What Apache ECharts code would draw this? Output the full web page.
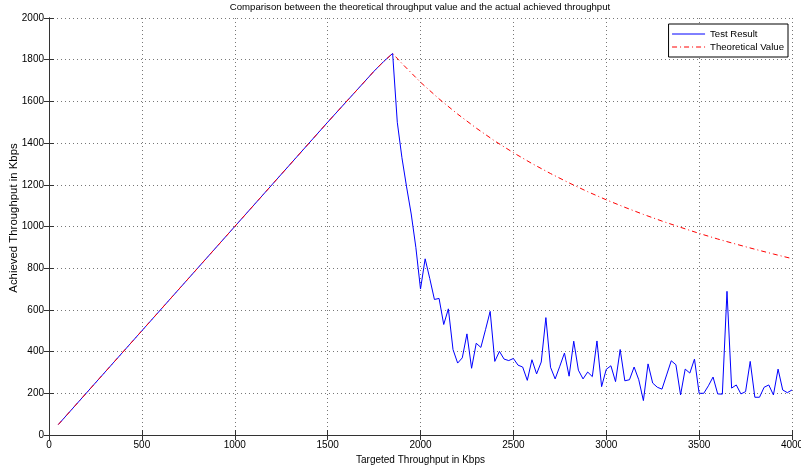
<!DOCTYPE html>
<html>
<head>
<meta charset="utf-8">
<script src="https://cdn.jsdelivr.net/npm/echarts@6/dist/echarts.min.js"></script>
<style>
  html, body { margin: 0; padding: 0; background: #fff; }
  #main { width: 801px; height: 465px; }
</style>
</head>
<body>
<div id="main"></div>
<script>
// measured test result (Kbps)
var testX = [
    50, 1000, 1500, 1750, 1800, 1850,
    1875, 1900, 1925, 1950, 1975, 2000,
    2025, 2050, 2075, 2100, 2125, 2150, 2175, 2200, 2225, 2250,
    2275, 2300, 2325, 2350, 2375, 2400, 2425, 2450, 2475, 2500,
    2525, 2550, 2575, 2600, 2625, 2650, 2675, 2700, 2725, 2750,
    2775, 2800, 2825, 2850, 2875, 2900, 2925, 2950, 2975, 3000,
    3025, 3050, 3075, 3100, 3125, 3150, 3175, 3200, 3225, 3250,
    3275, 3300, 3325, 3350, 3375, 3400, 3425, 3450, 3475, 3500,
    3525, 3550, 3575, 3600, 3625, 3650, 3675, 3700, 3725, 3750,
    3775, 3800, 3825, 3850, 3875, 3900, 3925, 3950, 3975, 4000
];
var testY = [
    50, 1000, 1500, 1745, 1790, 1830,
    1500, 1330, 1190, 1060, 900, 700,
    845, 750, 650, 655, 530, 605, 410, 345, 370, 485,
    320, 440, 420, 505, 593, 353, 401, 364, 357, 367,
    335, 326, 262, 361, 293, 350, 563, 325, 269, 330,
    393, 282, 450, 311, 269, 302, 280, 451, 232, 315,
    332, 256, 410, 260, 265, 326, 265, 165, 341, 249,
    229, 220, 288, 356, 337, 192, 316, 297, 364, 200,
    200, 236, 278, 197, 196, 689, 225, 240, 197, 208,
    353, 181, 181, 229, 240, 192, 316, 216, 203, 216
];

// theoretical value (Kbps)
var theoX = [50, 1000, 1500, 1750, 1800, 1850, 1900, 2000, 2100, 2200, 2300, 2400, 2500,
    2600, 2700, 2800, 2900, 3000, 3100, 3200, 3300, 3400, 3500, 3600, 3700, 3800, 3900, 4000];
var theoY = [50, 1000, 1500, 1745, 1790, 1830, 1782, 1692, 1612, 1539, 1472, 1410, 1354,
    1302, 1254, 1209, 1167, 1128, 1092, 1058, 1026, 996, 967, 940, 915, 891, 868, 846];

var xTicks = [0, 500, 1000, 1500, 2000, 2500, 3000, 3500, 4000];
var yTicks = [0, 200, 400, 600, 800, 1000, 1200, 1400, 1600, 1800, 2000];

function pairs(xs, ys) {
    return xs.map(function (x, i) { return [x, ys[i]]; });
}

var font = '"Liberation Sans", Arial, sans-serif';
var tick = { show: true, inside: true, length: 5, lineStyle: { color: '#333' } };
var axisLine = { show: true, lineStyle: { color: '#333', width: 1 } };
var grid = { type: [1, 3], color: '#777', width: 1 };

var chart = echarts.init(document.getElementById('main'), null, { renderer: 'canvas' });
chart.setOption({
    animation: false,
    backgroundColor: '#fff',
    textStyle: { fontFamily: font },
    title: {
        text: 'Comparison between the theoretical throughput value and the actual achieved throughput',
        left: 420,
        top: 2,
        padding: 0,
        textAlign: 'center',
        textStyle: { fontSize: 9.6, fontWeight: 'normal', color: '#000', fontFamily: font }
    },
    grid: { left: 49, right: 9, top: 18, bottom: 30, outerBoundsMode: 'none', containLabel: false },
    legend: {
        orient: 'vertical',
        right: 13,
        top: 24,
        backgroundColor: '#fff',
        borderColor: '#000',
        borderWidth: 1,
        borderRadius: 0,
        padding: [5, 4, 5, 3],
        itemWidth: 33,
        itemHeight: 10,
        itemGap: 3,
        itemStyle: { opacity: 0 },
        lineStyle: { width: 1 },
        textStyle: { fontSize: 9.6, color: '#000', fontFamily: font },
        data: ['Test Result', 'Theoretical Value']
    },
    graphic: [{
        type: 'text',
        x: 14,
        y: 218,
        rotation: Math.PI / 2,
        style: {
            text: 'Achieved Throughput in Kbps',
            fontSize: 11.4,
            fontFamily: font,
            fill: '#000',
            align: 'center',
            verticalAlign: 'middle'
        }
    }],
    xAxis: [{
        type: 'value',
        min: 0, max: 4000, interval: 500,
        name: 'Targeted Throughput in Kbps',
        nameLocation: 'middle',
        nameGap: 15,
        nameTextStyle: { fontSize: 10, color: '#000', fontFamily: font },
        axisLine: axisLine,
        axisTick: tick,
        axisLabel: { fontSize: 10, color: '#000', margin: 5, fontFamily: font,
            formatter: function (v) { return xTicks.indexOf(v) >= 0 ? v : ''; } },
        splitLine: { show: true, lineStyle: grid }
    }, {
        type: 'value', position: 'top',
        min: 0, max: 4000, interval: 500,
        axisLine: axisLine, axisTick: tick,
        axisLabel: { show: false }, splitLine: { show: false }
    }],
    yAxis: [{
        type: 'value',
        min: 0, max: 2000, interval: 200,
        axisLine: axisLine,
        axisTick: tick,
        axisLabel: { fontSize: 10, color: '#000', margin: 5, fontFamily: font,
            formatter: function (v) { return yTicks.indexOf(v) >= 0 ? v : ''; } },
        splitLine: { show: true, lineStyle: grid }
    }, {
        type: 'value', position: 'right',
        min: 0, max: 2000, interval: 200,
        axisLine: axisLine, axisTick: tick,
        axisLabel: { show: false }, splitLine: { show: false }
    }],
    series: [{
        name: 'Test Result',
        type: 'line',
        symbol: 'none',
        color: '#0000ff',
        lineStyle: { color: '#0000ff', width: 1 },
        data: pairs(testX, testY)
    }, {
        name: 'Theoretical Value',
        type: 'line',
        symbol: 'none',
        color: '#ff0000',
        lineStyle: { color: '#ff0000', width: 1, type: [5, 3, 1, 3] },
        data: pairs(theoX, theoY)
    }]
});
</script>
</body>
</html>
